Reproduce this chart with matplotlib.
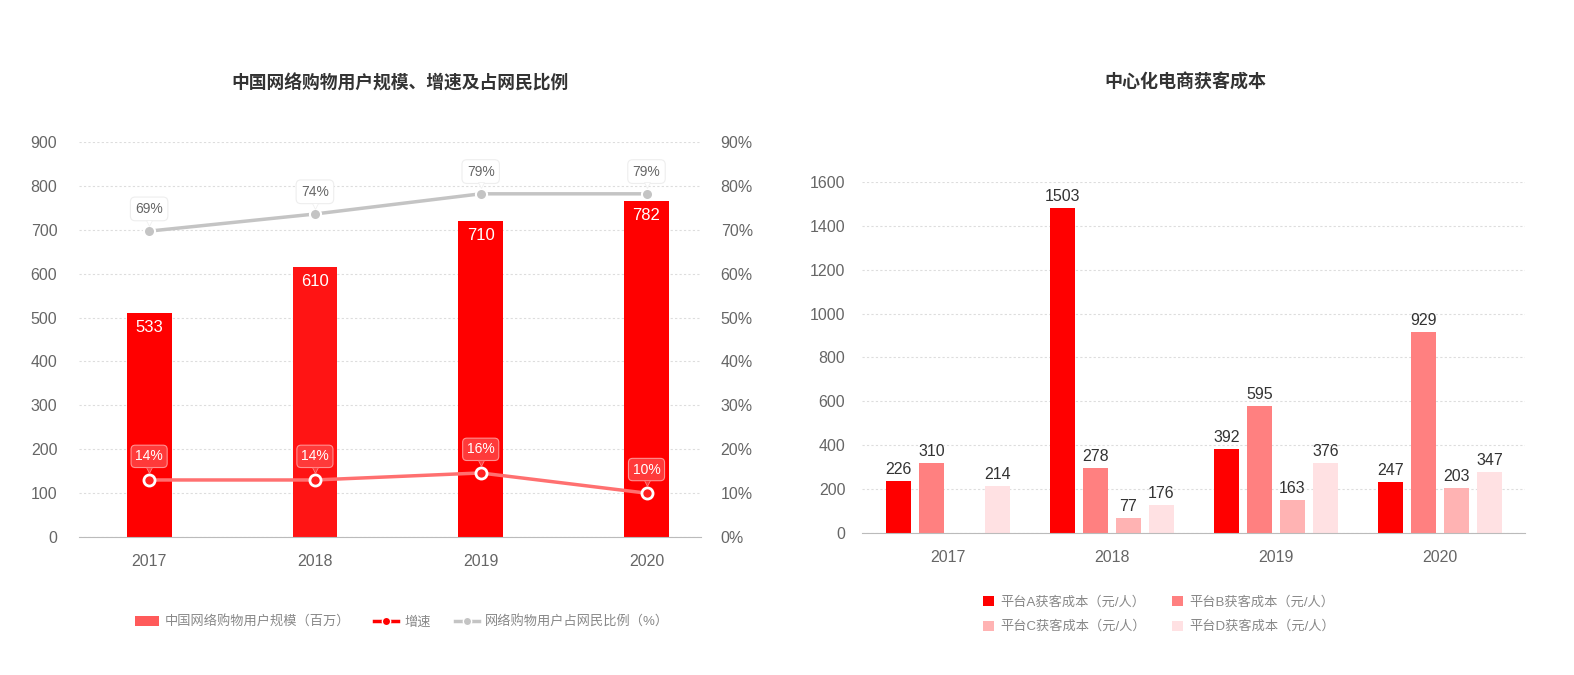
import numpy as np
import matplotlib.pyplot as plt
from matplotlib.patches import Patch
from matplotlib.lines import Line2D
from matplotlib import transforms

plt.rcParams['font.family'] = ['Liberation Sans', 'Noto Sans CJK SC', 'DejaVu Sans']

years = ["2017", "2018", "2019", "2020"]

# left chart
user_bar = [510, 615, 720, 765]          # bar heights as drawn
user_label = ["533", "610", "710", "782"]
growth = [13.0, 13.0, 14.6, 10.0]
growth_label = ["14%", "14%", "16%", "10%"]
share = [69.7, 73.6, 78.2, 78.2]
share_label = ["69%", "74%", "79%", "79%"]

# right chart
platforms = ["平台A获客成本（元/人）", "平台B获客成本（元/人）",
             "平台C获客成本（元/人）", "平台D获客成本（元/人）"]
cost_a = [237, 1482, 383, 233]
cost_b = [319, 297, 580, 917]
cost_c = [0, 68, 150, 205]
cost_d = [214, 128, 319, 278]
label_a = ["226", "1503", "392", "247"]
label_b = ["310", "278", "595", "929"]
label_c = ["", "77", "163", "203"]
label_d = ["214", "176", "376", "347"]

fig = plt.figure(figsize=(15.74, 6.75), dpi=100)
grey = "#666666"

# ---------------- left chart ----------------
ax = fig.add_axes([0.0505, 0.2044, 0.395, 0.5852])
ax2 = ax.twinx()
x = np.arange(len(years))
ax.bar(x, user_bar, width=0.27, color=["#ff0000", "#ff1414", "#ff0000", "#ff0000"], zorder=2)
for xi, h, lab in zip(x, user_bar, user_label):
    ax.annotate(lab, (xi, h), xytext=(0, -5), textcoords="offset points",
                ha="center", va="top", color="white", fontsize=12)
ax.set_ylim(0, 900)
ax.set_yticks(range(0, 901, 100))
ax.set_xlim(-0.42, 3.33)
ax.set_xticks(x)
ax.set_xticklabels(years)
ax.grid(axis="y", color="#dddddd", linestyle=(0, (2, 2)), linewidth=0.8)
ax.set_axisbelow(True)
for s in ["top", "left", "right"]:
    ax.spines[s].set_visible(False)
    ax2.spines[s].set_visible(False)
ax.spines["bottom"].set_color("#bbbbbb")
ax2.spines["bottom"].set_visible(False)
ax.tick_params(axis="both", length=0, labelsize=11.5, colors=grey)
ax.tick_params(axis="x", pad=12)
ax.tick_params(axis="y", pad=16)

ax2.set_ylim(0, 90)
ax2.set_yticks(range(0, 91, 10))
ax2.set_yticklabels([f"{v}%" for v in range(0, 91, 10)])
ax2.tick_params(axis="y", length=0, labelsize=11.5, colors=grey, pad=14)

ax2.plot(x, share, color="#c4c4c4", lw=2.5, marker="o", ms=8,
         mfc="#c4c4c4", mec="white", mew=1.5, zorder=3)
ax2.plot(x, growth, color="#ff7070", lw=2.5, marker="o", ms=8,
         mfc="#ff2020", mec="white", mew=2, zorder=3)

for xi, v, lab in zip(x, share, share_label):
    ax2.annotate(lab, (xi, v), xytext=(0, 16), textcoords="offset points",
                 ha="center", va="center", color=grey, fontsize=10, zorder=5,
                 bbox=dict(boxstyle="round,pad=0.35", fc="white", ec="#eeeeee", lw=0.8))
    tr = transforms.offset_copy(ax2.transData, fig=fig, x=0, y=6, units="points")
    ax2.plot([xi], [v], marker="v", ms=5, color="white", mec="#eeeeee", mew=0.5,
             transform=tr, zorder=6)
for xi, v, lab in zip(x, growth, growth_label):
    ax2.annotate(lab, (xi, v), xytext=(0, 17), textcoords="offset points",
                 ha="center", va="center", color="white", fontsize=10, zorder=5,
                 bbox=dict(boxstyle="round,pad=0.3", fc="#ff3a3a", ec="#ff9090", lw=0.8))
    tr = transforms.offset_copy(ax2.transData, fig=fig, x=0, y=7.5, units="points")
    ax2.plot([xi], [v], marker="v", ms=5, color="#ff3a3a", mec="#ff9090", mew=0.5,
             transform=tr, zorder=6)

fig.text(0.254, 0.877, "中国网络购物用户规模、增速及占网民比例", ha="center", va="center",
         fontsize=12.8, fontweight="bold", color="#333333")

h1 = [Patch(facecolor="#ff5a5a", edgecolor="none"),
      Line2D([0], [0], color="#ff0000", lw=2.5, marker="o", ms=6, mfc="#ff0000", mec="white"),
      Line2D([0], [0], color="#c4c4c4", lw=2.5, marker="o", ms=6, mfc="#c4c4c4", mec="white")]
fig.legend(h1, ["中国网络购物用户规模（百万）", "增速", "网络购物用户占网民比例（%）"],
           loc="center", bbox_to_anchor=(0.2555, 0.0785), ncol=3, frameon=False,
           fontsize=9.5, labelcolor="#888888", handlelength=1.8, handleheight=0.9,
           columnspacing=1.8, handletextpad=0.5)

# ---------------- right chart ----------------
bx = fig.add_axes([0.5476, 0.2104, 0.4212, 0.52])
series = [cost_a, cost_b, cost_c, cost_d]
labels = [label_a, label_b, label_c, label_d]
colors = ["#ff0000", "#ff8080", "#ffb3b3", "#ffe1e3"]
offsets = [-0.302, -0.101, 0.101, 0.302]
handles = []
for vals, labs, col, off, name in zip(series, labels, colors, offsets, platforms):
    b = bx.bar(x + off, vals, width=0.152, color=col, label=name, zorder=2)
    handles.append(b)
    for xi, v, lab in zip(x, vals, labs):
        if lab:
            bx.annotate(lab, (xi + off, v), xytext=(0, 3), textcoords="offset points",
                        ha="center", va="bottom", color="#333333", fontsize=11.5)
bx.set_ylim(0, 1600)
bx.set_yticks(range(0, 1601, 200))
bx.set_xlim(-0.524, 3.518)
bx.set_xticks(x)
bx.set_xticklabels(years)
bx.grid(axis="y", color="#dddddd", linestyle=(0, (2, 2)), linewidth=0.8)
bx.set_axisbelow(True)
for s in ["top", "left", "right"]:
    bx.spines[s].set_visible(False)
bx.spines["bottom"].set_color("#bbbbbb")
bx.tick_params(axis="both", length=0, labelsize=11.5, colors=grey)
bx.tick_params(axis="x", pad=12)
bx.tick_params(axis="y", pad=12)

fig.text(0.753, 0.877, "中心化电商获客成本", ha="center", va="center",
         fontsize=13, fontweight="bold", color="#333333")

order = [0, 2, 1, 3]
fig.legend([handles[i] for i in order], [platforms[i] for i in order],
           loc="center", bbox_to_anchor=(0.7365, 0.0895), ncol=2, frameon=False,
           fontsize=9.5, labelcolor="#888888", handlelength=0.8, handleheight=0.8,
           columnspacing=2.0, handletextpad=0.5, labelspacing=0.9)

fig.savefig("out.png", dpi=100, facecolor="white")
